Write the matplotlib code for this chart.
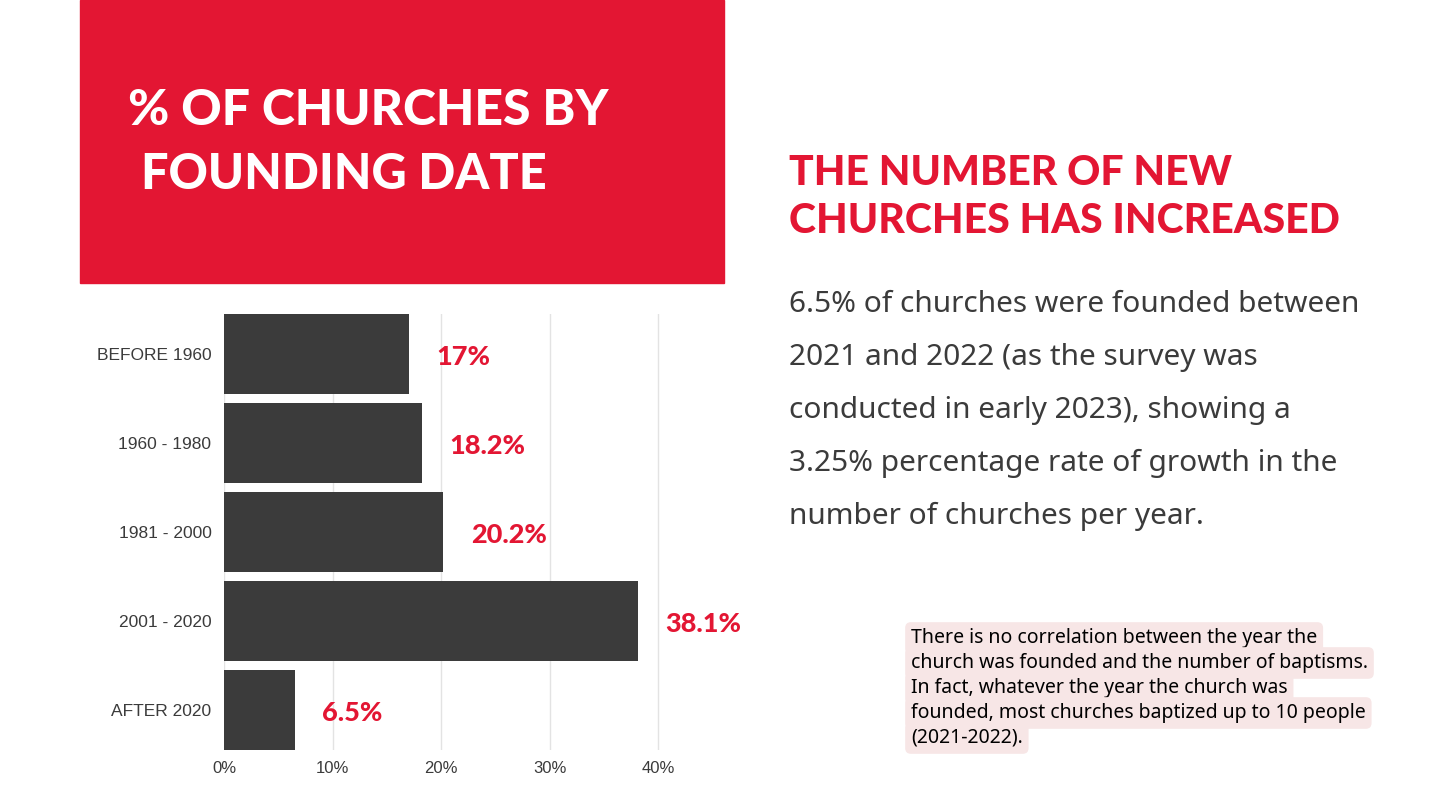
import matplotlib.pyplot as plt
from matplotlib.patches import Rectangle

# data
categories = ['BEFORE 1960', '1960 - 1980', '1981 - 2000', '2001 - 2020', 'AFTER 2020']
values = [17, 18.2, 20.2, 38.1, 6.5]
value_labels = ['17%', '18.2%', '20.2%', '38.1%', '6.5%']
x_ticks = [0, 10, 20, 30, 40]
x_tick_labels = ['0%', '10%', '20%', '30%', '40%']

RED = '#e31633'
DARK = '#3b3b3b'
W, H = 1456, 802

fig = plt.figure(figsize=(W / 100, H / 100), dpi=100)
fig.patch.set_facecolor('white')

def fx(px):
    return px / W

def fy(py):
    return 1 - py / H

# red title block
fig.patches.append(Rectangle((fx(80), fy(283)), fx(724) - fx(80), 283 / H,
                             transform=fig.transFigure, color=RED, zorder=0))
fig.text(fx(128), fy(125), '% OF CHURCHES BY', color='white', fontsize=36,
         family='Lato', fontweight='black', va='baseline')
fig.text(fx(141), fy(189), 'FOUNDING DATE', color='white', fontsize=35,
         family='Lato', fontweight='black', va='baseline')

# bar chart
ax = fig.add_axes([fx(224), fy(750), fx(680) - fx(224), (750 - 314) / H])
ypos = list(range(len(categories)))
ax.barh(ypos, values, height=0.905, color=DARK, zorder=2)
ax.set_ylim(len(categories) - 1 + 0.4525, -0.4525)
ax.set_xlim(0, 42)
ax.set_yticks(ypos)
ax.set_yticklabels(categories, family='Liberation Sans', fontsize=12.5, color=DARK)
ax.set_xticks(x_ticks)
ax.set_xticklabels(x_tick_labels, family='Liberation Sans', fontsize=12, color=DARK)
ax.tick_params(axis='y', length=0, pad=9)
ax.tick_params(axis='x', length=0, pad=8)
ax.grid(axis='x', color='#e3e3e3', linewidth=1, zorder=0)
ax.set_axisbelow(True)
for s in ax.spines.values():
    s.set_visible(False)

for y, v, lab in zip(ypos, values, value_labels):
    ax.annotate(lab, (v, y), xytext=(20, -2), textcoords='offset points',
                color=RED, fontsize=19.5, family='Lato', fontweight='black',
                va='center', ha='left', annotation_clip=False)

# right-hand heading and text
fig.text(fx(789), fy(185), 'THE NUMBER OF NEW', color=RED, fontsize=29.5,
         family='Lato', fontweight='black', va='baseline')
fig.text(fx(789), fy(233), 'CHURCHES HAS INCREASED', color=RED, fontsize=29.5,
         family='Lato', fontweight='black', va='baseline')

body = ['6.5% of churches were founded between',
        '2021 and 2022 (as the survey was',
        'conducted in early 2023), showing a',
        '3.25% percentage rate of growth in the',
        'number of churches per year.']
for i, line in enumerate(body):
    fig.text(fx(789), fy(312 + i * 53), line, color=DARK, fontsize=21.5,
             family='Noto Sans', va='baseline')

note = ['There is no correlation between the year the',
        'church was founded and the number of baptisms.',
        'In fact, whatever the year the church was',
        'founded, most churches baptized up to 10 people',
        '(2021-2022).']
for i, line in enumerate(note):
    fig.text(fx(911), fy(643 + i * 25), line, color='black', fontsize=14,
             family='Noto Sans', va='baseline',
             bbox=dict(boxstyle='round,pad=0.3', fc='#f7e6e6', ec='none'))

fig.savefig('out.png', dpi=100)
